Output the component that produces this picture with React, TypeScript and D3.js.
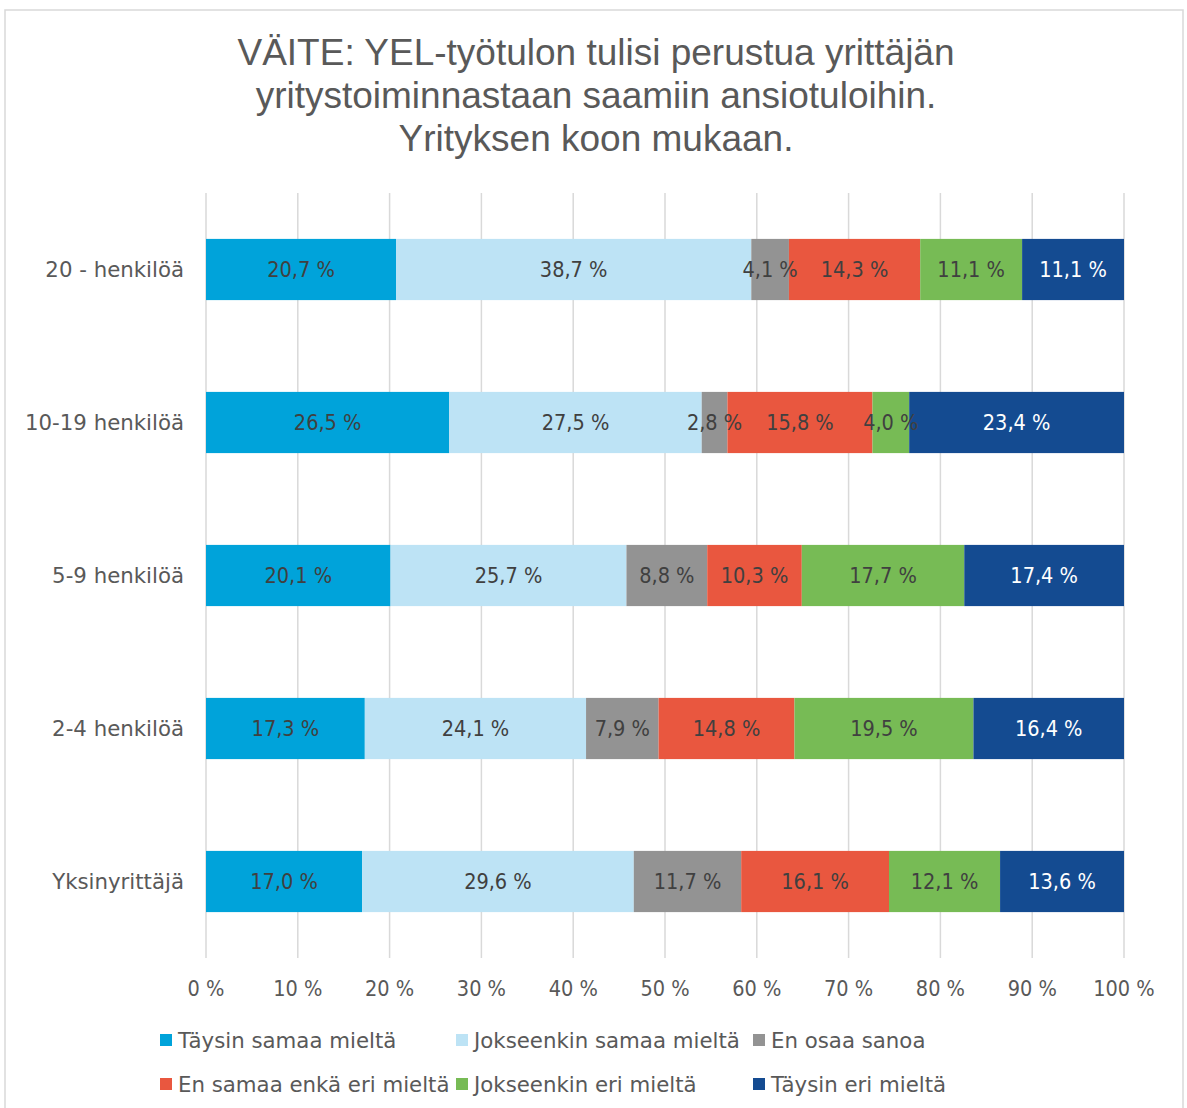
import React from "react";
import * as d3 from "d3";

const categories = ["20 - henkilöä", "10-19 henkilöä", "5-9 henkilöä", "2-4 henkilöä", "Yksinyrittäjä"];
const seriesNames = ["Täysin samaa mieltä", "Jokseenkin samaa mieltä", "En osaa sanoa", "En samaa enkä eri mieltä", "Jokseenkin eri mieltä", "Täysin eri mieltä"];
const seriesColors = ["#00A3DA", "#BDE3F5", "#939393", "#E9573F", "#77BB55", "#144B91"];
const labelColors = ["#404040", "#404040", "#404040", "#404040", "#404040", "#ffffff"];
const taysinSamaa = [20.7, 26.5, 20.1, 17.3, 17.0];
const jokseenkinSamaa = [38.7, 27.5, 25.7, 24.1, 29.6];
const enOsaa = [4.1, 2.8, 8.8, 7.9, 11.7];
const enSamaaEnka = [14.3, 15.8, 10.3, 14.8, 16.1];
const jokseenkinEri = [11.1, 4.0, 17.7, 19.5, 12.1];
const taysinEri = [11.1, 23.4, 17.4, 16.4, 13.6];
const xTicks = [0, 10, 20, 30, 40, 50, 60, 70, 80, 90, 100];
const titleLines = ["VÄITE: YEL-työtulon tulisi perustua yrittäjän", "yritystoiminnastaan saamiin ansiotuloihin.", "Yrityksen koon mukaan."];

const W = 1187, H = 1108;
const FONT_NUM = "'DejaVu Sans Condensed', 'DejaVu Sans', sans-serif";
const FONT_TXT = "'DejaVu Sans', sans-serif";

export default function App() {
  const series = [taysinSamaa, jokseenkinSamaa, enOsaa, enSamaaEnka, jokseenkinEri, taysinEri];
  const x = d3.scaleLinear().domain([0, 100]).range([206, 1124]);
  const y = d3.scaleBand<string>().domain(categories).range([193, 958]).paddingInner(0.6).paddingOuter(0.3);
  const rows = categories.map((c, i) => {
    let acc = 0;
    return series.map((s, k) => {
      const v = s[i];
      const start = acc;
      acc += v;
      return { cat: c, k, v, x0: start, x1: Math.min(acc, 100) };
    });
  });
  const fmt = (v: number) => v.toFixed(1).replace(".", ",") + " %";
  const legendPos = [
    [160, 1040], [456, 1040], [753, 1040],
    [160, 1084], [456, 1084], [753, 1084],
  ];
  return (
    <div style={{ position: "absolute", left: 0, top: 0 }}>
      <svg width={W} height={H} style={{ display: "block", background: "#fff" }}>
        <rect x={5} y={10} width={1178} height={1110} fill="#fff" stroke="#d9d9d9" strokeWidth={1.5} />
        {titleLines.map((t, i) => (
          <text key={i} x={596} y={65 + i * 43} textAnchor="middle" fontFamily="'Liberation Sans', Arial, sans-serif" fontSize={37} fill="#595959">{t}</text>
        ))}
        {xTicks.map(t => (
          <g key={t}>
            <line x1={x(t)} x2={x(t)} y1={193} y2={958} stroke="#d9d9d9" strokeWidth={1.5} />
            <text x={x(t)} y={996} textAnchor="middle" fontFamily={FONT_NUM} fontSize={21.5} fill="#595959">{t} %</text>
          </g>
        ))}
        {rows.map((row, i) => (
          <g key={i}>
            {row.map(seg => (
              <rect key={seg.k} x={x(seg.x0)} y={y(seg.cat)!} width={x(seg.x1) - x(seg.x0)} height={y.bandwidth()} fill={seriesColors[seg.k]} />
            ))}
            {row.map(seg => (
              <text key={"t" + seg.k} x={(x(seg.x0) + x(seg.x1)) / 2} y={y(seg.cat)! + y.bandwidth() / 2 + 7.5} textAnchor="middle" fontFamily={FONT_NUM} fontSize={21.5} fill={labelColors[seg.k]}>{fmt(seg.v)}</text>
            ))}
            <text x={184} y={y(categories[i])! + y.bandwidth() / 2 + 7.5} textAnchor="end" fontFamily={FONT_TXT} fontSize={21.3} fill="#595959">{categories[i]}</text>
          </g>
        ))}
        {seriesNames.map((n, k) => (
          <g key={n}>
            <rect x={legendPos[k][0]} y={legendPos[k][1] - 6} width={12} height={12} fill={seriesColors[k]} />
            <text x={legendPos[k][0] + 18} y={legendPos[k][1] + 7.5} fontFamily={FONT_TXT} fontSize={21.3} fill="#595959">{n}</text>
          </g>
        ))}
      </svg>
    </div>
  );
}
